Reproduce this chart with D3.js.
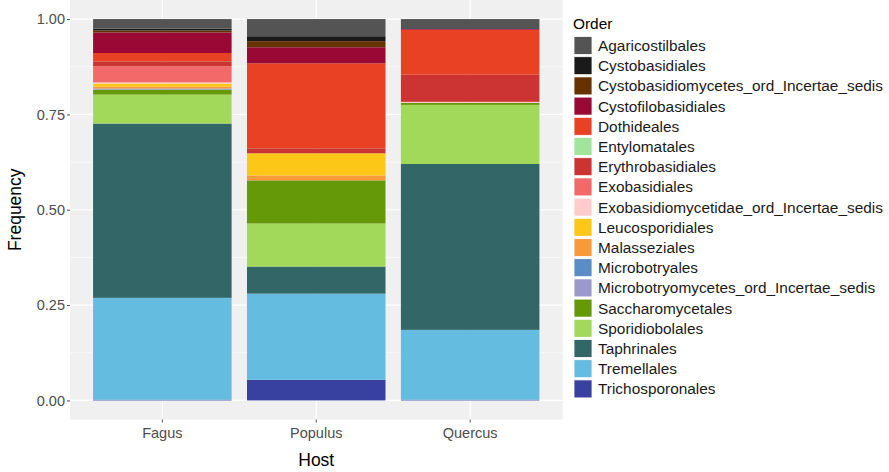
<!DOCTYPE html>
<html>
<head>
    <meta charset="utf-8">
    <title>Order frequency by host</title>
    <style>
        body { margin: 0; background: white; }
        svg { font-family: 'Liberation Sans', Arial, Helvetica, sans-serif; }
        .tick text { fill: #4d4d4d; font-size: 14.5px; }
        .tick line { stroke: #4d4d4d; }
    </style>
</head>
<body>
    <figure style="margin:0"></figure>

    <script src="https://cdn.jsdelivr.net/npm/d3@7"></script>
    <script>

        ////////////////////////////////////
        //////////////// Data //////////////
        ////////////////////////////////////

        const hosts = ['Fagus', 'Populus', 'Quercus']

        // legend order (top of stack first)
        const orders = [
            'Agaricostilbales', 'Cystobasidiales', 'Cystobasidiomycetes_ord_Incertae_sedis',
            'Cystofilobasidiales', 'Dothideales', 'Entylomatales', 'Erythrobasidiales',
            'Exobasidiales', 'Exobasidiomycetidae_ord_Incertae_sedis', 'Leucosporidiales',
            'Malasseziales', 'Microbotryales', 'Microbotryomycetes_ord_Incertae_sedis',
            'Saccharomycetales', 'Sporidiobolales', 'Taphrinales', 'Tremellales', 'Trichosporonales'
        ]

        const orderColors = [
            '#545454', '#1a1a1a', '#663300', '#9a0836', '#e84124', '#a1e59d', '#cc3333',
            '#f36868', '#ffcccc', '#fcc716', '#f99a3a', '#5a8cc6', '#9b99cb', '#669908',
            '#a2d95b', '#336666', '#64bde0', '#3840a0'
        ]

        // frequencies per host, same order as `orders`
        const fagus = [0.025, 0.005, 0.005, 0.054, 0.022, 0, 0.013, 0.042, 0.003, 0.008,
            0.005, 0, 0.003, 0.013, 0.076, 0.457, 0.267, 0.002]
        const populus = [0.045, 0.013, 0.016, 0.042, 0.223, 0, 0.013, 0, 0, 0.058,
            0.013, 0, 0, 0.113, 0.113, 0.071, 0.226, 0.054]
        const quercus = [0.026, 0, 0, 0.002, 0.118, 0, 0.071, 0, 0.003, 0,
            0, 0, 0, 0.005, 0.155, 0.435, 0.183, 0.002]

        const yTicks = [0, 0.25, 0.5, 0.75, 1]

        ////////////////////////////////////
        ///////////// SVG Setup ////////////
        ////////////////////////////////////

        const width = 889
        const height = 472
        const panel = { left: 70, top: 0, right: 562.5, bottom: 419.5 }

        const svg = d3.select('figure')
            .append('svg')
            .attr('width', width)
            .attr('height', height)

        // build rows for d3.stack
        const table = hosts.map(function (h, i) {
            const vals = [fagus, populus, quercus][i]
            const row = { host: h }
            orders.forEach(function (o, j) { row[o] = vals[j] })
            return row
        })

        ////////////////////////////////////
        /////////////// Scales /////////////
        ////////////////////////////////////

        const xScale = d3.scaleBand()
            .domain(hosts)
            .range([panel.left, panel.right])
            .paddingInner(0.1)
            .paddingOuter(0.15)

        const yScale = d3.scaleLinear()
            .domain([-0.05, 1.05])
            .range([panel.bottom, panel.top])

        const color = d3.scaleOrdinal().domain(orders).range(orderColors)

        // panel background + grid
        svg.append('rect')
            .attr('x', panel.left)
            .attr('y', panel.top)
            .attr('width', panel.right - panel.left)
            .attr('height', panel.bottom - panel.top)
            .attr('fill', '#f0f0f0')

        const minor = [0.125, 0.375, 0.625, 0.875]
        svg.selectAll('.minor')
            .data(minor)
            .enter()
            .append('line')
            .attr('x1', panel.left).attr('x2', panel.right)
            .attr('y1', d => yScale(d)).attr('y2', d => yScale(d))
            .attr('stroke', 'white').attr('stroke-width', 0.6)

        svg.selectAll('.major')
            .data(yTicks)
            .enter()
            .append('line')
            .attr('x1', panel.left).attr('x2', panel.right)
            .attr('y1', d => yScale(d)).attr('y2', d => yScale(d))
            .attr('stroke', 'white').attr('stroke-width', 1.2)

        svg.selectAll('.vgrid')
            .data(hosts)
            .enter()
            .append('line')
            .attr('x1', d => xScale(d) + xScale.bandwidth() / 2)
            .attr('x2', d => xScale(d) + xScale.bandwidth() / 2)
            .attr('y1', panel.top).attr('y2', panel.bottom)
            .attr('stroke', 'white').attr('stroke-width', 1.2)

        ////////////////////////////////////
        /////////////// Draw bars //////////
        ////////////////////////////////////

        // stack bottom-up: last legend entry sits at the bottom
        const stacked = d3.stack()
            .keys(orders.slice().reverse())(table)

        svg.selectAll('g.layer')
            .data(stacked)
            .enter()
            .append('g')
            .attr('class', 'layer')
            .attr('fill', d => color(d.key))
            .selectAll('rect')
            .data(d => d)
            .enter()
            .append('rect')
            .attr('x', d => xScale(d.data.host))
            .attr('width', xScale.bandwidth())
            .attr('y', d => yScale(d[1]))
            .attr('height', d => Math.max(0, yScale(d[0]) - yScale(d[1])))

        ////////////////////////////////////
        /////////////// Axes ///////////////
        ////////////////////////////////////

        svg.append('g')
            .attr('transform', 'translate(' + panel.left + ',0)')
            .call(d3.axisLeft(yScale).tickValues(yTicks).tickFormat(d3.format('.2f')).tickSize(3).tickPadding(2))
            .call(g => g.select('.domain').remove())

        svg.append('g')
            .attr('transform', 'translate(0,' + panel.bottom + ')')
            .call(d3.axisBottom(xScale).tickSize(3).tickPadding(5))
            .call(g => g.select('.domain').remove())

        svg.append('text')
            .attr('x', (panel.left + panel.right) / 2)
            .attr('y', 466)
            .attr('text-anchor', 'middle')
            .style('font-size', '17.5px')
            .text('Host')

        svg.append('text')
            .attr('transform', 'translate(21,' + yScale(0.5) + ') rotate(-90)')
            .attr('text-anchor', 'middle')
            .style('font-size', '17.5px')
            .text('Frequency')

        ////////////////////////////////////
        /////////////// Legend /////////////
        ////////////////////////////////////

        const legend = svg.append('g').attr('transform', 'translate(573,0)')

        legend.append('text')
            .attr('x', 0)
            .attr('y', 29)
            .style('font-size', '15.4px')
            .text('Order')

        const items = legend.selectAll('.item')
            .data(orders)
            .enter()
            .append('g')
            .attr('transform', (d, i) => 'translate(0,' + (36.5 + i * 20.2) + ')')

        items.append('rect')
            .attr('x', 1)
            .attr('width', 18)
            .attr('height', 18)
            .attr('fill', d => color(d))
            .attr('stroke', 'white')
            .attr('stroke-width', 0.8)

        items.append('text')
            .attr('x', 25)
            .attr('y', 14.5)
            .style('font-size', '15.4px')
            .attr('fill', '#1a1a1a')
            .text(d => d)

    </script>
</body>
</html>
